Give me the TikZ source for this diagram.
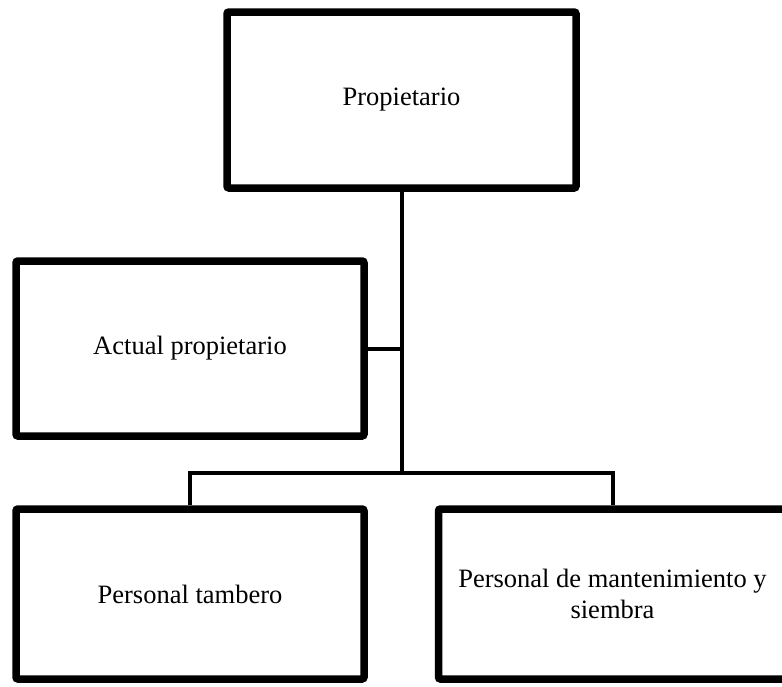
\documentclass[tikz,border=0pt]{standalone}
\usepackage{fontspec}
\setmainfont{Liberation Serif}
\usetikzlibrary{shadows}
\begin{document}
\begin{tikzpicture}[x=1pt,y=-1pt,
  orgbox/.style={draw=black, line width=7.5pt, rounded corners=2pt, fill=white,
    minimum width=348pt, inner sep=0pt, align=center,
    font=\fontsize{26.5}{31}\selectfont,
    drop shadow={shadow xshift=1pt, shadow yshift=-2.5pt, opacity=0.25, fill=gray}},
  link/.style={draw=black, line width=4pt}]
\useasboundingbox (0,0) rectangle (782,686);
\node[orgbox, minimum width=349pt, minimum height=176pt] (top) at (401.5,100) {Propietario};
\node[orgbox, minimum height=175pt] (act) at (190,348.5) {Actual propietario};
\node[orgbox, minimum height=170pt] (b1) at (190,594) {Personal tambero};
\node[orgbox, minimum height=170pt] (b2) at (612.5,594) {Personal de mantenimiento y\\siembra};
\coordinate (j) at (401.5,473);
\begin{scope}[on background layer/.try]
\end{scope}
\draw[link] (top.south) -- (j);
\draw[link] (act.east) -- (act.east -| j);
\draw[link] (b1.north) |- (j) -| (b2.north);
\end{tikzpicture}
\end{document}
